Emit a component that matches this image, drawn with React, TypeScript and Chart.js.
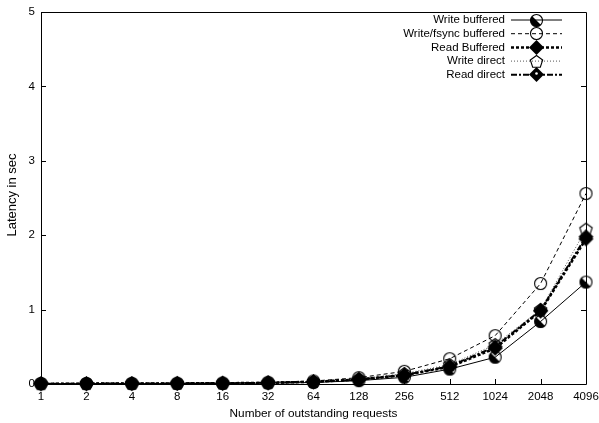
import React, { useEffect, useRef } from "react";
import { Chart, registerables } from "chart.js";

Chart.register(...registerables);

const requestCounts = ["1", "2", "4", "8", "16", "32", "64", "128", "256", "512", "1024", "2048", "4096"];
const writeBuffered = [0.005, 0.005, 0.005, 0.006, 0.008, 0.012, 0.02, 0.045, 0.09, 0.2, 0.36, 0.84, 1.37];
const writeFsyncBuffered = [0.006, 0.007, 0.008, 0.01, 0.013, 0.022, 0.04, 0.085, 0.17, 0.34, 0.65, 1.35, 2.56];
const readBuffered = [0.005, 0.005, 0.006, 0.008, 0.01, 0.016, 0.03, 0.06, 0.12, 0.23, 0.48, 0.98, 1.95];
const writeDirect = [0.005, 0.006, 0.007, 0.009, 0.012, 0.02, 0.035, 0.07, 0.14, 0.26, 0.53, 1.0, 2.08];
const readDirect = [0.005, 0.005, 0.006, 0.008, 0.01, 0.017, 0.03, 0.06, 0.12, 0.24, 0.5, 0.99, 1.98];
const yTicks = [0, 1, 2, 3, 4, 5];

const FONT = "'Liberation Sans', Arial, sans-serif";

type MarkerKind = "halfCircle" | "circle" | "diamond" | "pentagon" | "diamondDot";

function makeMarker(kind: MarkerKind): HTMLCanvasElement {
  const size = 17;
  const c = document.createElement("canvas");
  c.width = size;
  c.height = size;
  const ctx = c.getContext("2d")!;
  const m = size / 2;
  ctx.strokeStyle = "#000";
  ctx.fillStyle = "#000";
  ctx.lineWidth = 1.1;
  if (kind === "halfCircle" || kind === "circle") {
    const r = 6;
    if (kind === "halfCircle") {
      ctx.beginPath();
      ctx.moveTo(m, m);
      ctx.arc(m, m, r, Math.PI * 0.25, Math.PI * 1.25);
      ctx.closePath();
      ctx.fill();
    }
    ctx.beginPath();
    ctx.arc(m, m, r, 0, Math.PI * 2);
    ctx.stroke();
  } else if (kind === "diamond" || kind === "diamondDot") {
    const r = 7.5;
    ctx.beginPath();
    ctx.moveTo(m, m - r);
    ctx.lineTo(m + r, m);
    ctx.lineTo(m, m + r);
    ctx.lineTo(m - r, m);
    ctx.closePath();
    ctx.fill();
    if (kind === "diamondDot") {
      ctx.fillStyle = "#fff";
      ctx.beginPath();
      ctx.arc(m, m - 1, 1.3, 0, Math.PI * 2);
      ctx.fill();
    }
  } else if (kind === "pentagon") {
    const r = 6.5;
    ctx.beginPath();
    for (let i = 0; i < 5; i++) {
      const a = -Math.PI / 2 + (i * 2 * Math.PI) / 5;
      const x = m + r * Math.cos(a);
      const y = m + 0.5 + r * Math.sin(a);
      if (i === 0) ctx.moveTo(x, y);
      else ctx.lineTo(x, y);
    }
    ctx.closePath();
    ctx.stroke();
  }
  return c;
}

// Box border with inward tick marks, the vertical axis title, and a legend with right-aligned labels.
const framePlugin = {
  id: "frame",
  afterDraw(chart: any) {
    const { ctx, chartArea } = chart;
    const { left, right, top, bottom } = chartArea;
    const xs = chart.scales.x;
    const ys = chart.scales.y;
    ctx.save();
    ctx.strokeStyle = "#000";
    ctx.lineWidth = 1;
    ctx.beginPath();
    ctx.rect(Math.round(left) + 0.5, Math.round(top) + 0.5, Math.round(right - left), Math.round(bottom - top));
    ctx.stroke();
    const tl = 5;
    ctx.beginPath();
    requestCounts.forEach((_, i) => {
      const x = Math.round(xs.getPixelForValue(i)) + 0.5;
      ctx.moveTo(x, bottom);
      ctx.lineTo(x, bottom - tl);
    });
    yTicks.forEach((v) => {
      const y = Math.round(ys.getPixelForValue(v)) + 0.5;
      ctx.moveTo(left, y);
      ctx.lineTo(left + tl, y);
      ctx.moveTo(right, y);
      ctx.lineTo(right - tl, y);
    });
    ctx.stroke();

    // vertical axis title
    ctx.save();
    ctx.translate(12.5, (top + bottom) / 2 - 3);
    ctx.rotate(-Math.PI / 2);
    ctx.font = `13px ${FONT}`;
    ctx.fillStyle = "#000";
    ctx.textAlign = "center";
    ctx.textBaseline = "middle";
    ctx.fillText("Latency in sec", 0, 0);
    ctx.restore();

    // legend
    const textRight = 505;
    const lineStart = 511;
    const lineEnd = 562;
    const rowTop = 20;
    const rowStep = 13.7;
    ctx.font = `11.5px ${FONT}`;
    ctx.textAlign = "right";
    ctx.textBaseline = "middle";
    chart.data.datasets.forEach((ds: any, i: number) => {
      const y = rowTop + i * rowStep;
      ctx.fillStyle = "#000";
      ctx.fillText(ds.label, textRight, y);
      ctx.save();
      ctx.strokeStyle = ds.borderColor;
      ctx.lineWidth = ds.borderWidth;
      ctx.setLineDash(ds.borderDash || []);
      ctx.beginPath();
      ctx.moveTo(lineStart, y);
      ctx.lineTo(lineEnd, y);
      ctx.stroke();
      ctx.restore();
      const mk = ds.pointStyle as HTMLCanvasElement;
      ctx.drawImage(mk, Math.round((lineStart + lineEnd) / 2 - mk.width / 2), Math.round(y - mk.height / 2));
    });
    ctx.restore();
  },
};

export default function App() {
  const canvasRef = useRef<HTMLCanvasElement | null>(null);

  useEffect(() => {
    const canvas = canvasRef.current;
    if (!canvas) return;
    const series = [
      { label: "Write buffered", data: writeBuffered, marker: "halfCircle" as MarkerKind, width: 1, dash: [] as number[], color: "#000" },
      { label: "Write/fsync buffered", data: writeFsyncBuffered, marker: "circle" as MarkerKind, width: 1, dash: [4, 3], color: "#000" },
      { label: "Read Buffered", data: readBuffered, marker: "diamond" as MarkerKind, width: 2.5, dash: [3, 2], color: "#000" },
      { label: "Write direct", data: writeDirect, marker: "pentagon" as MarkerKind, width: 1, dash: [1, 2], color: "#555" },
      { label: "Read direct", data: readDirect, marker: "diamondDot" as MarkerKind, width: 2, dash: [6, 2, 2, 2], color: "#000" },
    ];
    const chart = new Chart(canvas, {
      type: "line",
      data: {
        labels: requestCounts,
        datasets: series.map((s) => ({
          label: s.label,
          data: s.data,
          borderColor: s.color,
          borderWidth: s.width,
          borderDash: s.dash,
          pointStyle: makeMarker(s.marker),
          pointRadius: 7,
          pointHoverRadius: 7,
          backgroundColor: "transparent",
          tension: 0,
          clip: false,
        })) as any,
      },
      options: {
        animation: false,
        responsive: false,
        events: [],
        layout: { padding: { left: 0, right: 13, top: 12, bottom: 0 } },
        plugins: { legend: { display: false }, tooltip: { enabled: false } },
        scales: {
          x: {
            type: "category",
            offset: false,
            grid: { display: false, drawTicks: false },
            border: { display: false },
            ticks: { color: "#000", font: { family: FONT, size: 11.5 }, padding: 6, autoSkip: false, maxRotation: 0 },
            title: {
              display: true,
              text: "Number of outstanding requests",
              color: "#000",
              font: { family: FONT, size: 11.8 },
              padding: { top: 0, bottom: 2 },
            },
            afterFit: (s: any) => {
              s.height = 39;
              s.paddingLeft = 0;
              s.paddingRight = 0;
            },
          },
          y: {
            type: "linear",
            min: 0,
            max: 5,
            grid: { display: false, drawTicks: false },
            border: { display: false },
            ticks: {
              stepSize: 1,
              color: "#000",
              font: { family: FONT, size: 11.5 },
              padding: 6,
            },
            afterFit: (s: any) => {
              s.width = 41;
              s.paddingTop = 0;
              s.paddingBottom = 0;
            },
          },
        },
      },
      plugins: [framePlugin],
    });
    return () => chart.destroy();
  }, []);

  return (
    <div style={{ position: "fixed", left: 0, top: 0, width: 599, height: 423, background: "#fff" }}>
      <canvas ref={canvasRef} width={599} height={423} style={{ display: "block" }} />
    </div>
  );
}
